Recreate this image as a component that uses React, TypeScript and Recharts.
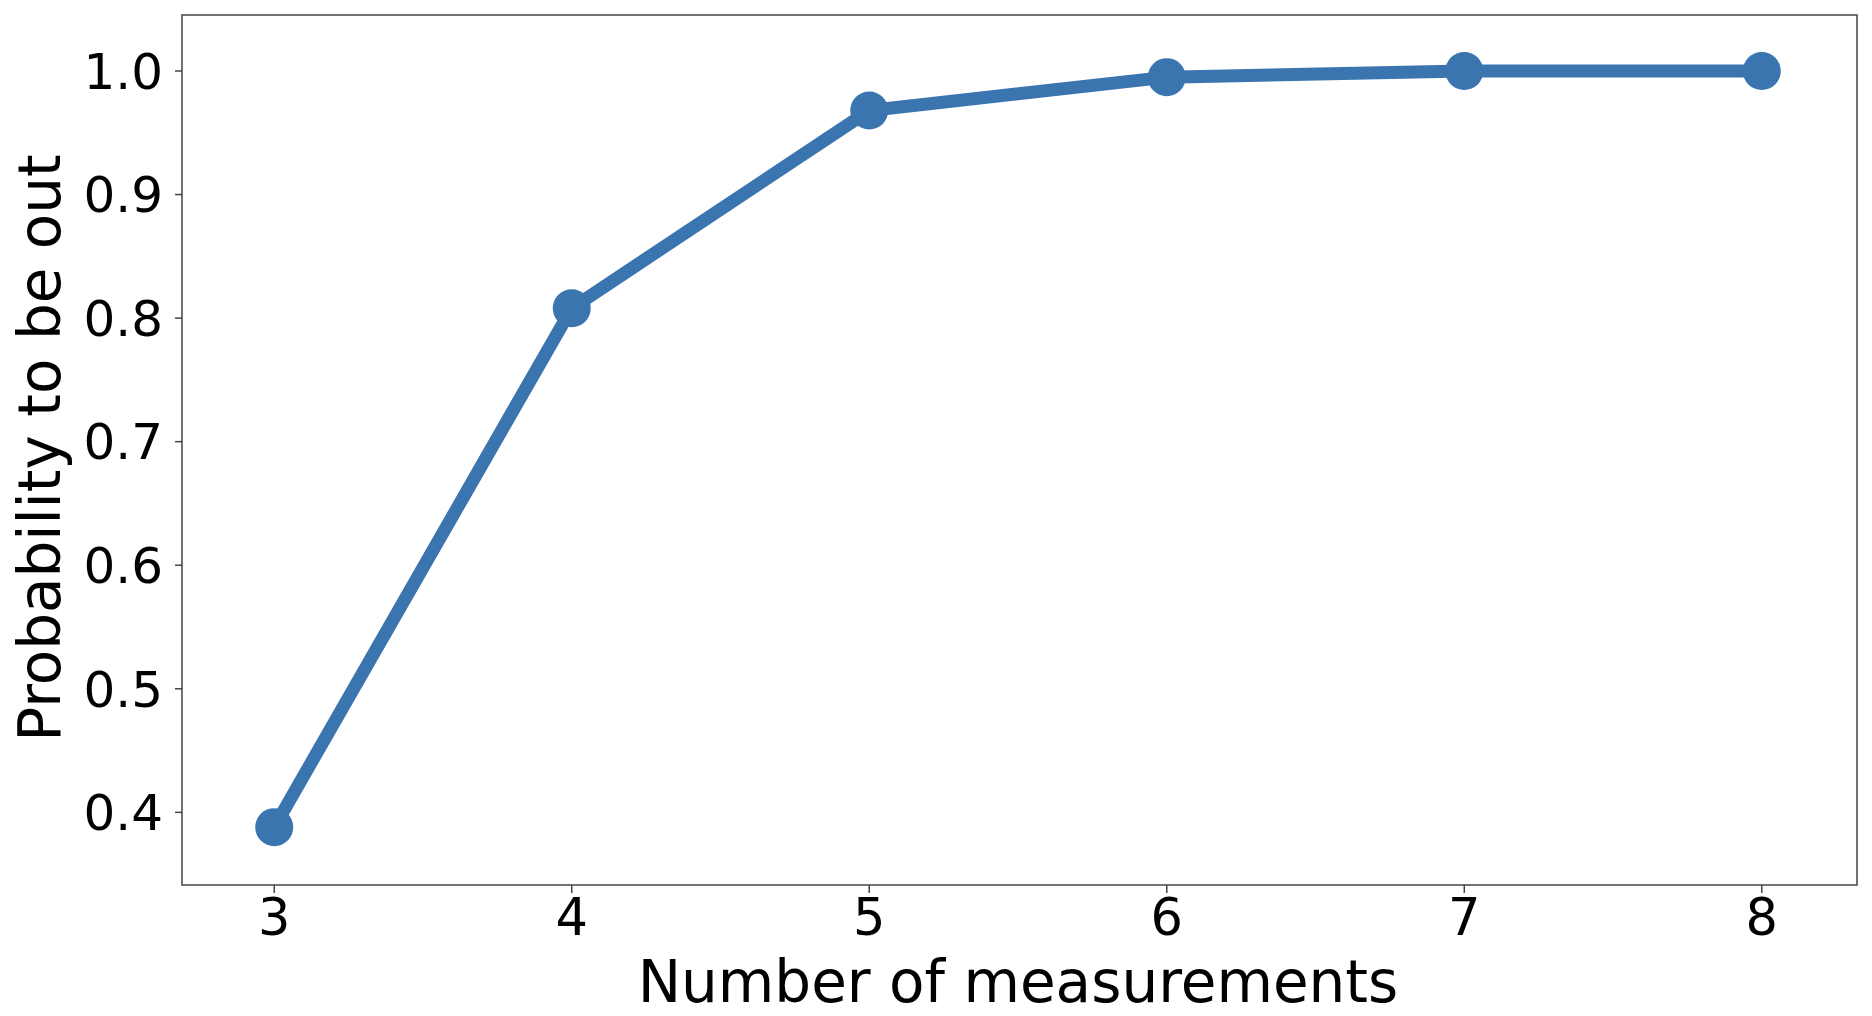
import React from 'react';
import { LineChart, Line, XAxis, YAxis, ReferenceArea } from 'recharts';

// values
const measurements = [3, 4, 5, 6, 7, 8];
const probability = [0.388, 0.808, 0.968, 0.995, 1.0, 1.0];
const xTicks = [3, 4, 5, 6, 7, 8];
const yTicks = [0.4, 0.5, 0.6, 0.7, 0.8, 0.9, 1.0];

const xDomain = [2.69, 8.32];
const yDomain = [0.3412, 1.0453];

const data = measurements.map((m, i) => ({ n: m, p: probability[i] }));

const FONT = '"DejaVu Sans", sans-serif';
const BLUE = '#3B75AF';
const AXIS = '#444444';

const XTitle = () => (
    <text x={1018} y={1002} textAnchor="middle" fontSize={58} fontFamily={FONT} fill="#000">
        Number of measurements
    </text>
);

const YTitle = () => (
    <text
        x={60}
        y={448}
        textAnchor="middle"
        fontSize={58}
        fontFamily={FONT}
        fill="#000"
        transform="rotate(-90 60 448)"
    >
        Probability to be out
    </text>
);

export default function App() {
    return (
        <div style={{ position: 'absolute', left: 0, top: 0, background: '#fff' }}>
            <LineChart
                width={1872}
                height={1016}
                data={data}
                margin={{ top: 15, right: 15, left: 0, bottom: 0 }}
            >
                <XAxis
                    dataKey="n"
                    type="number"
                    domain={xDomain}
                    ticks={xTicks}
                    allowDataOverflow
                    height={131}
                    axisLine={false}
                    tickSize={8}
                    tickMargin={6}
                    tickLine={{ stroke: AXIS, strokeWidth: 1.5 }}
                    tick={{ fill: '#000', fontSize: 51, fontFamily: FONT }}
                    label={<XTitle />}
                />
                <YAxis
                    type="number"
                    domain={yDomain}
                    ticks={yTicks}
                    allowDataOverflow
                    width={182}
                    axisLine={false}
                    tickSize={7}
                    tickMargin={12}
                    tickLine={{ stroke: AXIS, strokeWidth: 1.5 }}
                    tick={{ fill: '#000', fontSize: 50, fontFamily: FONT }}
                    tickFormatter={(v: number) => v.toFixed(1)}
                    label={<YTitle />}
                />
                <ReferenceArea
                    x1={xDomain[0]}
                    x2={xDomain[1]}
                    y1={yDomain[0]}
                    y2={yDomain[1]}
                    fill="none"
                    stroke={AXIS}
                    strokeWidth={1.5}
                />
                <Line
                    dataKey="p"
                    type="linear"
                    stroke={BLUE}
                    strokeWidth={13}
                    dot={{ r: 19, fill: BLUE, stroke: 'none' }}
                    activeDot={false}
                    isAnimationActive={false}
                />
            </LineChart>
        </div>
    );
}
